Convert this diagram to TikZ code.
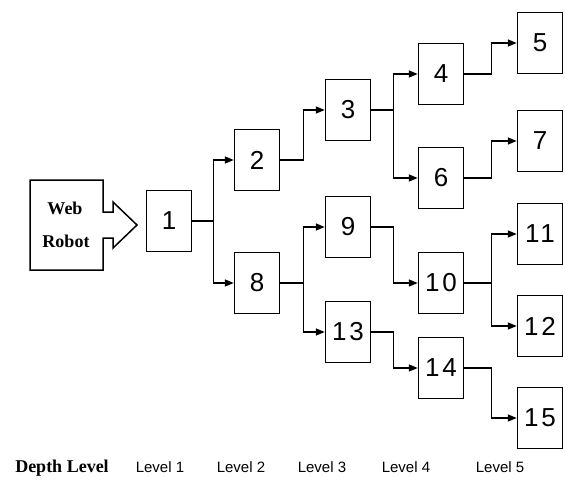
\documentclass[tikz,border=0pt]{standalone}
\usepackage{fontspec}
\setmainfont{Liberation Serif}
\newfontfamily\numfont[LetterSpace=10]{Liberation Sans}
\newfontfamily\lvlfont{Liberation Sans}
\usetikzlibrary{arrows.meta}
\begin{document}
\begin{tikzpicture}[x=1pt,y=-1pt,
  pagebox/.style={draw,line width=1.5pt,minimum width=45pt,minimum height=61pt,inner sep=0pt,
    font=\numfont\fontsize{26}{26}\selectfont},
  link/.style={line width=1.5pt,-{Triangle[length=9pt,width=7pt]}},
  lvl/.style={font=\lvlfont\fontsize{15}{15}\selectfont,anchor=base},
  bold/.style={font=\bfseries\fontsize{18}{18}\selectfont}]
\useasboundingbox (0,0) rectangle (565,482);
% web robot
\draw[line width=1.5pt,line join=miter] (30,180) -- (103,180) -- (103,212) -- (113,212) -- (113,202)
  -- (137,225) -- (113,248) -- (113,238) -- (103,238) -- (103,270) -- (30,270) -- cycle;
\node[bold] (web) at (65,208) {Web};
\node[bold] (robot) at (66,241) {Robot};
% pages
\node[pagebox] (n1) at (169,221) {1};
\node[pagebox] (n2) at (257,160) {2};
\node[pagebox] (n8) at (257,283) {8};
\node[pagebox] (n3) at (348,110) {3};
\node[pagebox] (n9) at (348,227) {9};
\node[pagebox] (n13) at (348,332) {13};
\node[pagebox] (n4) at (441,74) {4};
\node[pagebox] (n6) at (441,178) {6};
\node[pagebox] (n10) at (441,283) {10};
\node[pagebox] (n14) at (441,368) {14};
\node[pagebox] (n5) at (540,43) {5};
\node[pagebox] (n7) at (540,141) {7};
\node[pagebox] (n11) at (540,234) {11};
\node[pagebox] (n12) at (540,326) {12};
\node[pagebox] (n15) at (540,418) {15};
% links
\draw[link] (n1.east) -- ++(21,0) |- (n2.west);
\draw[link] (n1.east) -- ++(21,0) |- (n8.west);
\draw[link] (n2.east) -- ++(23,0) |- (n3.west);
\draw[link] (n8.east) -- ++(23,0) |- (n9.west);
\draw[link] (n8.east) -- ++(23,0) |- (n13.west);
\draw[link] (n3.east) -- ++(22,0) |- (n4.west);
\draw[link] (n3.east) -- ++(22,0) |- (n6.west);
\draw[link] (n9.east) -- ++(22,0) |- (n10.west);
\draw[link] (n13.east) -- ++(22,0) |- (n14.west);
\draw[link] (n4.east) -- ++(27,0) |- (n5.west);
\draw[link] (n6.east) -- ++(27,0) |- (n7.west);
\draw[link] (n10.east) -- ++(27,0) |- (n11.west);
\draw[link] (n10.east) -- ++(27,0) |- (n12.west);
\draw[link] (n14.east) -- ++(27,0) |- (n15.west);
% labels
\node[bold,anchor=base] (depth) at (62,472) {Depth Level};
\node[lvl] (l1) at (160,472) {Level 1};
\node[lvl] (l2) at (241,472) {Level 2};
\node[lvl] (l3) at (322,472) {Level 3};
\node[lvl] (l4) at (406,472) {Level 4};
\node[lvl] (l5) at (500,472) {Level 5};
\end{tikzpicture}
\end{document}
